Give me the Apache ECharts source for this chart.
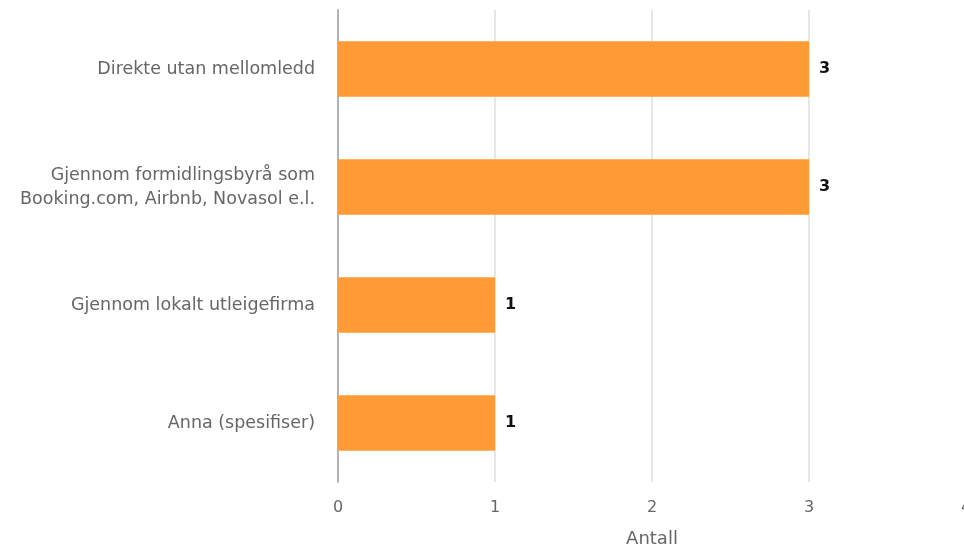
<!DOCTYPE html>
<html>
<head>
<meta charset="utf-8">
<script src="https://cdn.jsdelivr.net/npm/echarts@6/dist/echarts.min.js"></script>
<style>html,body{margin:0;padding:0;background:#fff;overflow:hidden}#c{width:964px;height:547px}</style>
</head>
<body>
<div id="c"></div>
<script>
var categories = ['Direkte utan mellomledd', 'Gjennom formidlingsbyrå som\nBooking.com, Airbnb, Novasol e.l.', 'Gjennom lokalt utleigefirma', 'Anna (spesifiser)'];
var values = [3, 3, 1, 1];
var axisName = 'Antall';

var FF = 'DejaVu Sans';
var chart = echarts.init(document.getElementById('c'));
chart.setOption({
  animation: false,
  textStyle: { fontFamily: FF },
  grid: { left: 338, top: 10, width: 628, height: 472, containLabel: false, outerBoundsMode: 'none' },
  xAxis: {
    type: 'value', min: 0, max: 4, interval: 1,
    name: axisName, nameLocation: 'middle', nameGap: 48,
    nameTextStyle: { color: '#666', fontSize: 18, fontFamily: FF },
    axisLine: { show: false }, axisTick: { show: false },
    axisLabel: { color: '#666', fontSize: 16, margin: 18, fontFamily: FF },
    splitLine: { lineStyle: { color: '#e6e6e6', width: 2 } }
  },
  yAxis: {
    type: 'category', data: categories, inverse: true,
    axisLine: { show: true, lineStyle: { color: '#b3b3b3', width: 2 } },
    axisTick: { show: false },
    axisLabel: { color: '#666', fontSize: 17.5, margin: 23, lineHeight: 24, align: 'right', fontFamily: FF }
  },
  series: [{
    type: 'bar', data: values, barWidth: '47%',
    itemStyle: { color: '#ff9b37' },
    label: { show: true, position: 'right', distance: 10, color: '#111', fontWeight: 'bold', fontSize: 16, fontFamily: FF }
  }]
});
</script>
</body>
</html>
